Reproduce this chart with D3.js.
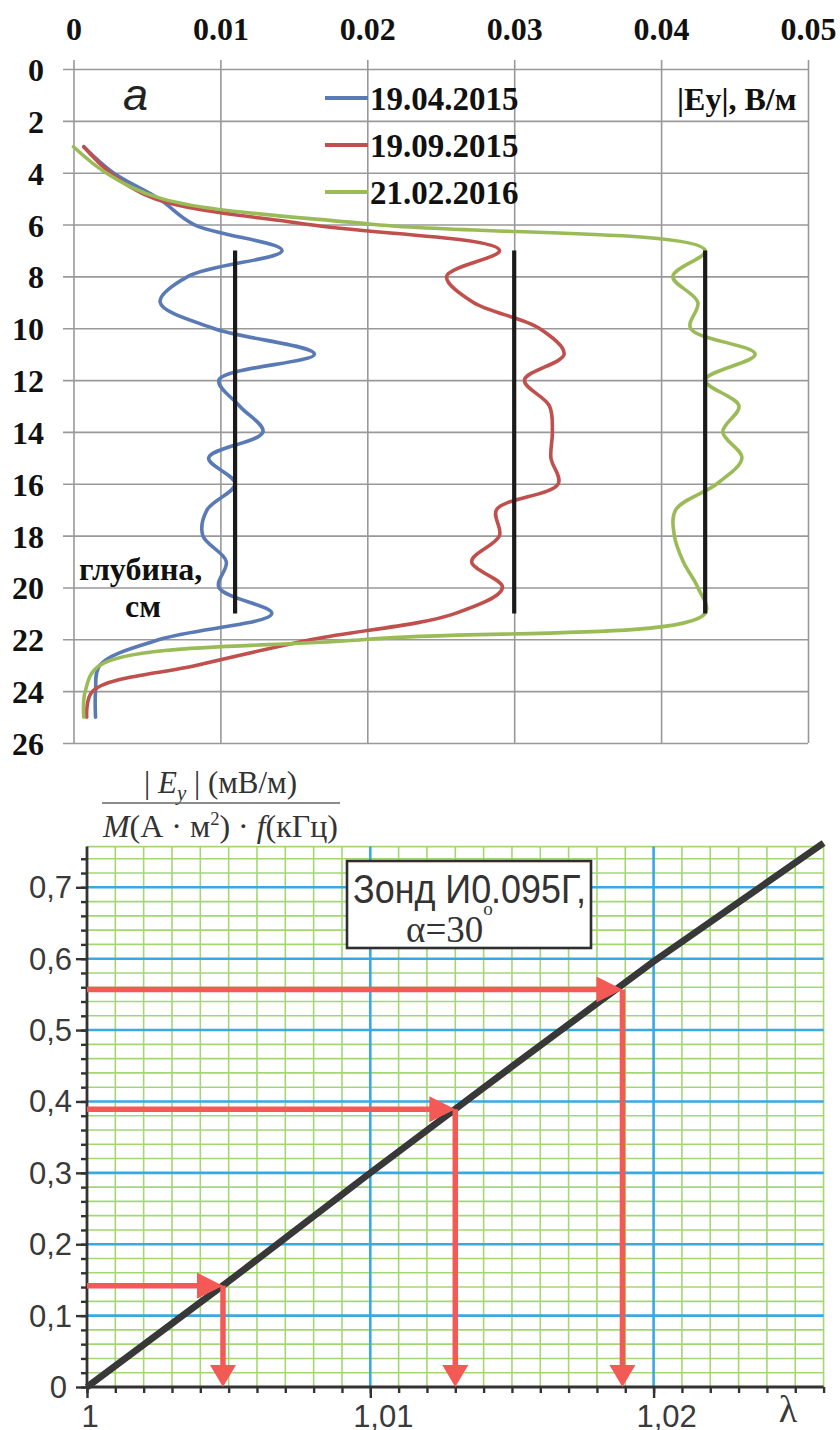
<!DOCTYPE html>
<html><head><meta charset="utf-8">
<script src="https://cdn.jsdelivr.net/npm/d3@7"></script>
<style>body{margin:0;background:#fff}svg{display:block}</style>
</head><body>
<svg id="c" width="840" height="1430"></svg>
<script>
// ---------------- TOP CHART DATA ----------------
const depths = [3,4,5,6,7,8,9,10,11,12,13,14,15,16,17,18,19,20,21,22,23,24,25];
const ey_19_04_2015 = [0.0007,0.0027,0.0058,0.0082,0.0142,0.0078,0.0059,0.0095,0.0164,0.0099,0.0113,0.0129,0.0092,0.0110,0.0091,0.0088,0.0104,0.0099,0.0135,0.0059,0.0018,0.0015,0.0015];
const ey_19_09_2015 = [0.0007,0.0025,0.0055,0.0160,0.0290,0.0254,0.0272,0.0317,0.0334,0.0307,0.0324,0.0326,0.0325,0.0330,0.0288,0.0290,0.0271,0.0292,0.0260,0.0163,0.0084,0.0013,0.0009];
const ey_21_02_2016 = [0.0000,0.0022,0.0060,0.0205,0.0430,0.0408,0.0425,0.0420,0.0464,0.0430,0.0453,0.0442,0.0455,0.0438,0.0410,0.0409,0.0415,0.0425,0.0430,0.0200,0.0018,0.0008,0.0007];
const seriesNames = ["19.04.2015","19.09.2015","21.02.2016"];
const seriesColors = ["#5a7ab5","#c0504d","#9bbb59"];
const meanValues = [0.011, 0.030, 0.043];
const meanDepthFrom = 7, meanDepthTo = 21;
const topXTicks = [0,0.01,0.02,0.03,0.04,0.05];
const topYTicks = [0,2,4,6,8,10,12,14,16,18,20,22,24,26];

// ---------------- BOTTOM CHART DATA ----------------
const lambdaVals = [1, 1.005, 1.01, 1.015, 1.02, 1.026];
const ratioVals  = [0, 0.148, 0.300, 0.449, 0.596, 0.762];
const arrowLambda = [1.0048, 1.0130, 1.0189];
const arrowRatio  = [0.142, 0.389, 0.557];
const botXTicks = [1, 1.01, 1.02];
const botXLabels = ["1","1,01","1,02"];
const botYTicks = [0,0.1,0.2,0.3,0.4,0.5,0.6,0.7];
const botYLabels = ["0","0,1","0,2","0,3","0,4","0,5","0,6","0,7"];

const svg = d3.select("#c");
const serif = "'Liberation Serif','Times New Roman',serif";
const sans = "'Liberation Sans',Arial,sans-serif";

// ================= TOP =================
const x = d3.scaleLinear().domain([0,0.05]).range([73.5,808]);
const y = d3.scaleLinear().domain([0,26]).range([69,743]);
const gTop = svg.append("g");

const gx = gTop.append("g").attr("transform","translate(0,60)")
  .call(d3.axisTop(x).tickValues(topXTicks).tickSize(-(743-60)).tickPadding(20)
    .tickFormat(d => d===0 ? "0" : d3.format(".2f")(d)));
gx.select(".domain").remove();
gx.selectAll("line").attr("stroke","#999").attr("stroke-width",1.6);
gx.selectAll("text").attr("font-family",serif).attr("font-weight","bold").attr("font-size",32).attr("fill","#111");

const gy = gTop.append("g").attr("transform","translate(63,0)")
  .call(d3.axisLeft(y).tickValues(topYTicks).tickSize(-(808-63)).tickPadding(19));
gy.select(".domain").remove();
gy.selectAll("line").attr("stroke","#999").attr("stroke-width",1.6);
gy.selectAll("text").attr("font-family",serif).attr("font-weight","bold").attr("font-size",32).attr("fill","#111").attr("dy","0.36em");

const allSeries = [ey_19_04_2015, ey_19_09_2015, ey_21_02_2016];
const line = d3.line().x(d=>x(d[1])).y(d=>y(d[0])).curve(d3.curveCatmullRom.alpha(0.5));
allSeries.forEach((s,i)=>{
  gTop.append("path").datum(depths.map((dd,j)=>[dd,s[j]]))
    .attr("d",line).attr("fill","none").attr("stroke",seriesColors[i])
    .attr("stroke-width",3.6).attr("stroke-linejoin","round").attr("stroke-linecap","round");
});
gTop.selectAll(".mean").data(meanValues).enter().append("line")
  .attr("x1",d=>x(d)).attr("x2",d=>x(d)).attr("y1",y(meanDepthFrom)).attr("y2",y(meanDepthTo))
  .attr("stroke","#1a1a1a").attr("stroke-width",4.2);

const legY = [98,145,192];
seriesNames.forEach((n,i)=>{
  gTop.append("line").attr("x1",325).attr("x2",368).attr("y1",legY[i]).attr("y2",legY[i])
    .attr("stroke",seriesColors[i]).attr("stroke-width",4);
  gTop.append("text").attr("x",370).attr("y",legY[i]+11.5).text(n)
    .attr("font-family",serif).attr("font-weight","bold").attr("font-size",33).attr("fill","#111");
});
gTop.append("text").attr("x",677).attr("y",110).text("|Ey|, В/м")
  .attr("font-family",serif).attr("font-weight","bold").attr("font-size",32).attr("fill","#111");
gTop.append("text").attr("x",123).attr("y",110).text("а")
  .attr("font-family",sans).attr("font-style","italic").attr("font-size",45).attr("fill","#222");
gTop.append("text").attr("x",79).attr("y",580).text("глубина,")
  .attr("font-family",serif).attr("font-weight","bold").attr("font-size",32).attr("fill","#111");
gTop.append("text").attr("x",143).attr("y",617).attr("text-anchor","middle").text("см")
  .attr("font-family",serif).attr("font-weight","bold").attr("font-size",32).attr("fill","#111");

// ================= BOTTOM =================
const bx = d3.scaleLinear().domain([1,1.01]).range([87,370.3]);
const by = d3.scaleLinear().domain([0,0.7]).range([1387,887.3]);
const yTop = 0.757, xRight = 1.026;
const bot = svg.append("g");

const minorX = d3.range(0,27).map(i=>1+i/1000);
const minorY = d3.range(0,38).map(i=>i*0.02);
bot.selectAll(".gv").data(minorX.filter((d,i)=>i%10!==0)).enter().append("line")
  .attr("x1",d=>bx(d)).attr("x2",d=>bx(d)).attr("y1",by(0)).attr("y2",by(yTop))
  .attr("stroke","#a3d774").attr("stroke-width",1.6);
bot.selectAll(".gh").data(minorY.filter((d,i)=>i%5!==0).concat([yTop])).enter().append("line")
  .attr("x1",bx(1)).attr("x2",bx(xRight)).attr("y1",d=>by(d)).attr("y2",d=>by(d))
  .attr("stroke","#a3d774").attr("stroke-width",1.6);
bot.selectAll(".bv").data([1.01,1.02]).enter().append("line")
  .attr("x1",d=>bx(d)).attr("x2",d=>bx(d)).attr("y1",by(0)).attr("y2",by(yTop))
  .attr("stroke","#3aa9e0").attr("stroke-width",2.6);
bot.selectAll(".bh").data(botYTicks.slice(1)).enter().append("line")
  .attr("x1",bx(1)).attr("x2",bx(xRight)).attr("y1",d=>by(d)).attr("y2",d=>by(d))
  .attr("stroke","#3aa9e0").attr("stroke-width",2.6);

const ax1 = bot.append("g").attr("transform",`translate(0,${by(0)})`)
  .call(d3.axisBottom(bx).tickValues(minorX).tickSize(6).tickFormat(""));
const ax2 = bot.append("g").attr("transform",`translate(0,${by(0)})`)
  .call(d3.axisBottom(bx).tickValues(botXTicks).tickSize(11).tickFormat(""));
const ay1 = bot.append("g").attr("transform",`translate(${bx(1)},0)`)
  .call(d3.axisLeft(by).tickValues(minorY).tickSize(6).tickFormat(""));
const ay2 = bot.append("g").attr("transform",`translate(${bx(1)},0)`)
  .call(d3.axisLeft(by).tickValues(botYTicks).tickSize(11).tickFormat(""));
[ax1,ax2,ay1,ay2].forEach(g=>{
  g.select(".domain").remove();
  g.selectAll("line").attr("stroke","#333").attr("stroke-width",2.4);
});
bot.append("line").attr("x1",bx(1)).attr("x2",bx(xRight)).attr("y1",by(0)).attr("y2",by(0)).attr("stroke","#333").attr("stroke-width",2.8);
bot.append("line").attr("x1",bx(1)).attr("x2",bx(1)).attr("y1",by(0)).attr("y2",by(yTop)).attr("stroke","#333").attr("stroke-width",2.8);

bot.selectAll(".yl").data(botYTicks).enter().append("text")
  .attr("x",d=>d===0?67:72).attr("y",d=>by(d)+11).attr("text-anchor","end")
  .text((d,i)=>botYLabels[i]).attr("font-family",sans).attr("font-size",31).attr("fill","#3a3a3a");
bot.selectAll(".xl").data(botXTicks).enter().append("text")
  .attr("x",(d,i)=>bx(d)+(i===0?3:13)).attr("y",1427).attr("text-anchor","middle")
  .text((d,i)=>botXLabels[i]).attr("font-family",sans).attr("font-size",31).attr("fill","#3a3a3a");
bot.append("text").attr("x",788).attr("y",1422).attr("text-anchor","middle").text("λ")
  .attr("font-family",serif).attr("font-size",38).attr("fill","#3a3a3a");

const cl = d3.line().x(d=>bx(d)).y((d,i)=>by(ratioVals[i]));
bot.append("path").datum(lambdaVals).attr("d",cl).attr("fill","none")
  .attr("stroke","#383838").attr("stroke-width",6.8).attr("stroke-linecap","butt");

const red = "#f35a55";
arrowLambda.forEach((lv,i)=>{
  const ax = bx(lv), ay = by(arrowRatio[i]);
  bot.append("line").attr("x1",bx(1)).attr("x2",ax-20).attr("y1",ay).attr("y2",ay).attr("stroke",red).attr("stroke-width",5.5);
  bot.append("path").attr("d",`M${ax},${ay}L${ax-26},${ay-13}L${ax-26},${ay+13}Z`).attr("fill",red);
  bot.append("line").attr("x1",ax).attr("x2",ax).attr("y1",ay).attr("y2",by(0)-18).attr("stroke",red).attr("stroke-width",5.5);
  bot.append("path").attr("d",`M${ax},${by(0)}L${ax-13},${by(0)-22}L${ax+13},${by(0)-22}Z`).attr("fill",red);
});

bot.append("rect").attr("x",347).attr("y",861).attr("width",244).attr("height",87)
  .attr("fill","#fff").attr("stroke","#2e2e2e").attr("stroke-width",2.6);
bot.append("text").attr("x",353).attr("y",903).text("Зонд И0.095Г,")
  .attr("font-family",sans).attr("font-size",40).attr("fill","#333")
  .attr("textLength",233).attr("lengthAdjust","spacingAndGlyphs");
const at = bot.append("text").attr("x",406).attr("y",942).attr("font-family",serif).attr("font-size",37).attr("fill","#333");
at.append("tspan").text("α=30");
at.append("tspan").attr("dy",-27).attr("font-size",19).text("o");

const num = bot.append("text").attr("x",144).attr("y",793).attr("font-family",serif).attr("font-size",31).attr("fill","#333")
  .attr("textLength",153).attr("lengthAdjust","spacingAndGlyphs");
num.append("tspan").text("| ");
num.append("tspan").attr("font-style","italic").text("E");
num.append("tspan").attr("font-style","italic").attr("font-size",21).attr("dy",7).text("y");
num.append("tspan").attr("dy",-7).text(" | (мВ/м)");
bot.append("line").attr("x1",102).attr("x2",340).attr("y1",803).attr("y2",803).attr("stroke","#666").attr("stroke-width",1.5);
const den = bot.append("text").attr("x",103).attr("y",837).attr("font-family",serif).attr("font-size",31).attr("fill","#333")
  .attr("textLength",235).attr("lengthAdjust","spacingAndGlyphs");
den.append("tspan").attr("font-style","italic").text("M");
den.append("tspan").text("(А · м");
den.append("tspan").attr("font-size",18).attr("dy",-12).text("2");
den.append("tspan").attr("dy",12).text(") · ");
den.append("tspan").attr("font-style","italic").text("f");
den.append("tspan").text("(кГц)");
</script>
</body></html>
